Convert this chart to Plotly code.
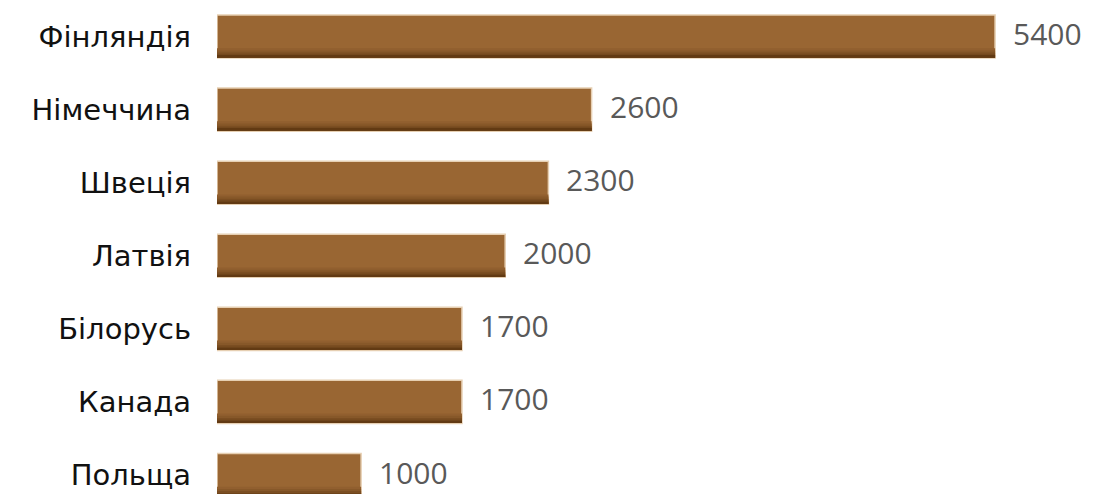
import plotly.graph_objects as go

# Countries and their values
countries = ["Фінляндія", "Німеччина", "Швеція", "Латвія", "Білорусь", "Канада", "Польща"]
values = [5400, 2600, 2300, 2000, 1700, 1700, 1000]

positions = list(range(len(countries)))

BAR_W = 0.59
MAIN = "#996633"

fig = go.Figure()

# main bars with a soft light rim
fig.add_trace(go.Bar(
    x=values, y=positions, orientation="h",
    width=BAR_W, offset=-BAR_W / 2,
    marker=dict(color=MAIN, line=dict(color="#e6cfb2", width=1.5)),
    hoverinfo="skip", showlegend=False,
))

# darker shading bands along the lower edge of each bar
bands = [(0.13, "#915f2f"), (0.10, "#875829"), (0.07, "#7b4e22"), (0.045, "#6e441a"), (0.025, "#623a13")]
for bw, col in bands:
    fig.add_trace(go.Bar(
        x=values, y=positions, orientation="h",
        width=bw, offset=BAR_W / 2 - bw - 0.005,
        marker=dict(color=col, line=dict(width=0)),
        hoverinfo="skip", showlegend=False,
    ))

# value labels just past each bar end
for v, p in zip(values, positions):
    fig.add_annotation(
        x=v, y=p, text=str(v), showarrow=False,
        xanchor="left", yanchor="middle", xshift=17, yshift=3,
        borderpad=0,
        font=dict(family="Open Sans", size=30, color="#595959"),
    )

fig.update_layout(
    width=1105, height=494,
    margin=dict(l=217, r=0, t=0, b=0),
    paper_bgcolor="white", plot_bgcolor="white",
    barmode="overlay",
    xaxis=dict(range=[0, 6163], visible=False, fixedrange=True),
    yaxis=dict(
        range=[6.26, -0.5],
        tickvals=positions, ticktext=countries,
        showgrid=False, zeroline=False, showline=False, ticks="",
        ticklabelstandoff=25,
        tickfont=dict(family="DejaVu Sans", size=29, color="#111111"),
        fixedrange=True,
    ),
)

fig.write_html("out.html")
